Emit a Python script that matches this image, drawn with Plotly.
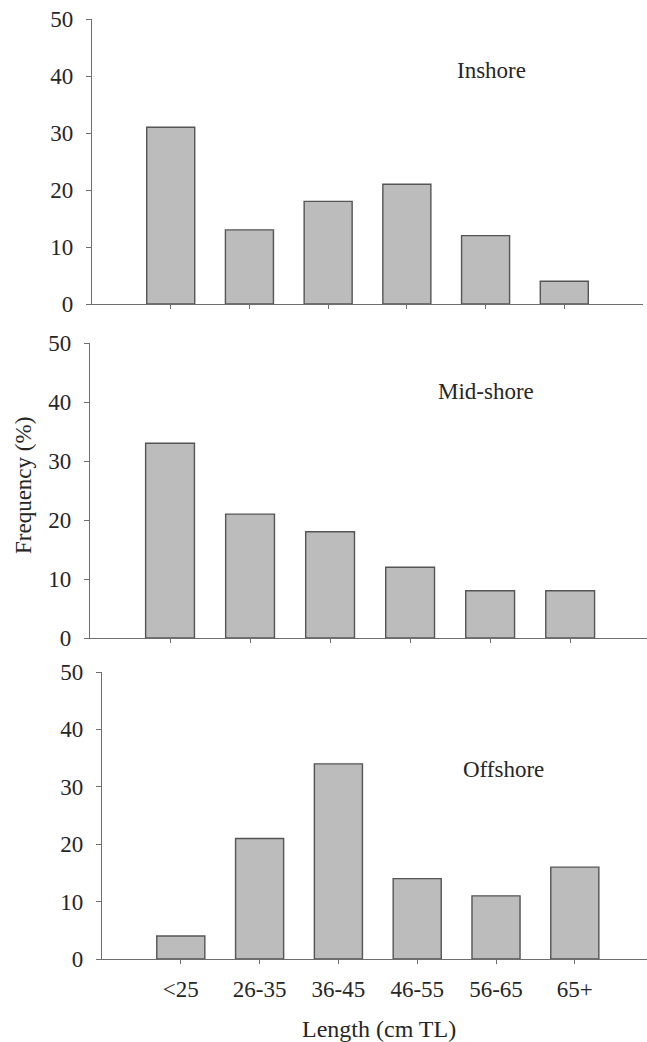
import plotly.graph_objects as go

categories = ["<25", "26-35", "36-45", "46-55", "56-65", "65+"]
inshore = [31, 13, 18, 21, 12, 4]
midshore = [33, 21, 18, 12, 8, 8]
offshore = [4, 21, 34, 14, 11, 16]
panel_names = ["Inshore", "Mid-shore", "Offshore"]
y_ticks = [0, 10, 20, 30, 40, 50]

W, H = 647, 1042
FONT = "Liberation Serif, Times New Roman, serif"
TXT = "#262626"
BAR_FILL = "#bcbcbc"
BAR_LINE = "#555555"
AXIS = "#6e6e6e"

# panel pixel geometry: (x_left, x_right, y_top, y_bottom, x_range_end)
panels = [
    (92, 643, 19, 304, 6.0),
    (90, 647, 343, 638, 5.96),
    (102, 647, 672, 959, 5.916),
]
label_pos = [(4.08, 41.0), (3.95, 41.7), (4.09, 33.0)]

fig = go.Figure()
xs = list(range(len(categories)))
for i, (vals, (xl, xr, yt, yb, xend)) in enumerate(zip([inshore, midshore, offshore], panels)):
    n = i + 1
    xa = "x" if n == 1 else f"x{n}"
    ya = "y" if n == 1 else f"y{n}"
    fig.add_trace(go.Bar(
        x=xs, y=vals, width=0.61, xaxis=xa, yaxis=ya,
        marker=dict(color=BAR_FILL, line=dict(color=BAR_LINE, width=1.4)),
        showlegend=False, hoverinfo="skip",
    ))
    last = (n == 3)
    fig.update_layout(**{
        f"xaxis{'' if n == 1 else n}": dict(
            domain=[xl / W, xr / W], range=[-1, xend], anchor=ya,
            tickmode="array", tickvals=xs,
            ticktext=categories if last else [""] * len(categories),
            showticklabels=last, automargin=False,
            ticks="outside", ticklen=4, tickcolor=AXIS, tickwidth=1.2,
            showline=True, linecolor=AXIS, linewidth=1.4,
            showgrid=False, zeroline=False, fixedrange=True,
            tickfont=dict(family=FONT, size=23, color=TXT),
            ticklabelstandoff=5,
        ),
        f"yaxis{'' if n == 1 else n}": dict(
            domain=[1 - yb / H, 1 - yt / H], range=[0, 50], anchor=xa,
            tickmode="array", tickvals=y_ticks, automargin=False,
            ticks="outside", ticklen=5, tickcolor=AXIS, tickwidth=1.2,
            showline=True, linecolor=AXIS, linewidth=1.4,
            showgrid=False, zeroline=False, fixedrange=True,
            tickfont=dict(family=FONT, size=23, color=TXT),
            ticklabelstandoff=8,
        ),
    })
    lx, ly = label_pos[i]
    fig.add_annotation(x=lx, y=ly, xref=xa, yref=ya, text=panel_names[i],
                       xanchor="center", yanchor="middle",
                       showarrow=False, font=dict(family=FONT, size=23, color=TXT))

fig.add_annotation(x=23 / W, y=1 - 486 / H, xref="paper", yref="paper",
                   text="Frequency (%)", textangle=-90, showarrow=False,
                   xanchor="center", yanchor="middle",
                   font=dict(family=FONT, size=23, color=TXT))
fig.add_annotation(x=379 / W, y=1 - 1029 / H, xref="paper", yref="paper",
                   text="Length (cm TL)", showarrow=False,
                   xanchor="center", yanchor="middle",
                   font=dict(family=FONT, size=24, color=TXT))

fig.update_layout(
    width=W, height=H, margin=dict(l=0, r=0, t=0, b=0, autoexpand=False),
    paper_bgcolor="white", plot_bgcolor="white", bargap=0.4,
)
fig.write_html("out.html")
